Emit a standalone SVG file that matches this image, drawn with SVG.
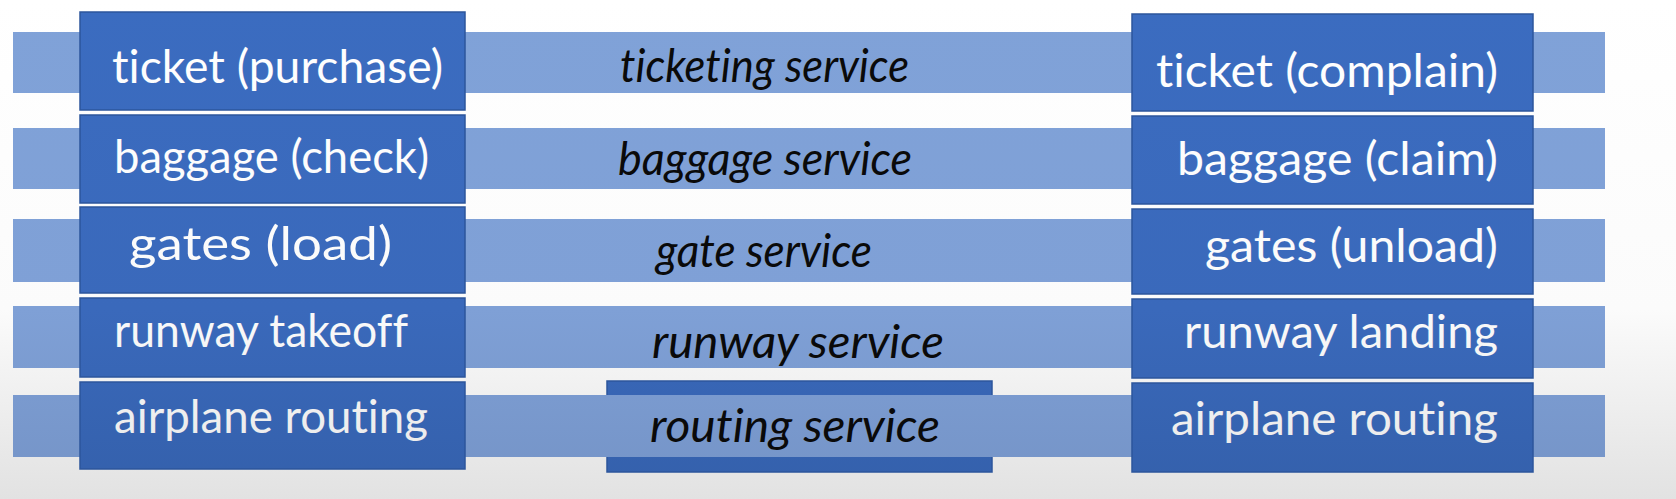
<svg xmlns="http://www.w3.org/2000/svg" width="1676" height="499" viewBox="0 0 1676 499">
<defs>
<linearGradient id="bg" gradientUnits="userSpaceOnUse" x1="0" y1="0" x2="0" y2="499">
<stop offset="0" stop-color="#ffffff"/>
<stop offset="0.62" stop-color="#fbfbfb"/>
<stop offset="1" stop-color="#e2e2e2"/>
</linearGradient>
<linearGradient id="bandFill" gradientUnits="userSpaceOnUse" x1="0" y1="0" x2="0" y2="499">
<stop offset="0" stop-color="#80a2d8"/>
<stop offset="0.62" stop-color="#7fa0d6"/>
<stop offset="1" stop-color="#7493c6"/>
</linearGradient>
<linearGradient id="boxFill" gradientUnits="userSpaceOnUse" x1="0" y1="0" x2="0" y2="499">
<stop offset="0" stop-color="#3b6cc0"/>
<stop offset="0.62" stop-color="#3a69bb"/>
<stop offset="1" stop-color="#3460ab"/>
</linearGradient>
<linearGradient id="textFill" gradientUnits="userSpaceOnUse" x1="0" y1="0" x2="0" y2="499">
<stop offset="0" stop-color="#ffffff"/>
<stop offset="0.62" stop-color="#fafafa"/>
<stop offset="1" stop-color="#e6e6e6"/>
</linearGradient>
</defs>
<style>
.band{fill:url(#bandFill);}
.box{fill:url(#boxFill);stroke:#2c569c;stroke-width:1.5;}
.lbl{font-family:Lato,"Open Sans","Liberation Sans",sans-serif;font-size:47px;fill:url(#textFill);font-variant-ligatures:none;font-feature-settings:"liga" 0,"clig" 0;}
.svc{font-family:Lato,"Open Sans","Liberation Sans",sans-serif;font-size:46px;font-style:italic;fill:#0a0a0a;font-variant-ligatures:none;font-feature-settings:"liga" 0,"clig" 0;}
</style>
<rect x="0" y="0" width="1676" height="499" fill="url(#bg)"/>

<g id="connectors">
<rect class="band" x="13" y="32" width="1592" height="61"/>
<rect class="band" x="13" y="128" width="1592" height="61"/>
<rect class="band" x="13" y="219" width="1592" height="63"/>
<rect class="band" x="13" y="306" width="1592" height="62"/>
</g>

<g id="routing-service">
<rect class="box" x="607" y="381" width="385" height="91"/>
</g>
<g id="band-routing">
<rect class="band" x="13" y="395" width="1592" height="62"/>
</g>

<g id="ticketing-service"><text class="svc" x="620" y="82" textLength="289" lengthAdjust="spacingAndGlyphs">ticketing service</text></g>
<g id="baggage-service"><text class="svc" x="618" y="175" textLength="294" lengthAdjust="spacingAndGlyphs">baggage service</text></g>
<g id="gate-service"><text class="svc" x="656" y="267" textLength="216" lengthAdjust="spacingAndGlyphs">gate service</text></g>
<g id="runway-service"><text class="svc" x="652" y="358" textLength="292" lengthAdjust="spacingAndGlyphs">runway service</text></g>
<g id="routing-service-label"><text class="svc" x="650" y="442" textLength="290" lengthAdjust="spacingAndGlyphs">routing service</text></g>

<g id="ticket-purchase">
<rect class="box" x="80" y="12" width="385" height="98"/>
<text class="lbl" x="112" y="83" textLength="331" lengthAdjust="spacingAndGlyphs">ticket (purchase)</text>
</g>
<g id="baggage-check">
<rect class="box" x="80" y="115" width="385" height="88"/>
<text class="lbl" x="114" y="173" textLength="315" lengthAdjust="spacingAndGlyphs">baggage (check)</text>
</g>
<g id="gates-load">
<rect class="box" x="80" y="207" width="385" height="86"/>
<text class="lbl" x="129" y="260" textLength="263" lengthAdjust="spacingAndGlyphs">gates (load)</text>
</g>
<g id="runway-takeoff">
<rect class="box" x="80" y="298" width="385" height="79"/>
<text class="lbl" x="114" y="347" textLength="294" lengthAdjust="spacingAndGlyphs">runway takeoff</text>
</g>
<g id="airplane-routing-left">
<rect class="box" x="80" y="382" width="385" height="87"/>
<text class="lbl" x="114" y="433" textLength="314" lengthAdjust="spacingAndGlyphs">airplane routing</text>
</g>

<g id="ticket-complain">
<rect class="box" x="1132" y="14" width="401" height="97"/>
<text class="lbl" x="1156" y="87" textLength="342" lengthAdjust="spacingAndGlyphs">ticket (complain)</text>
</g>
<g id="baggage-claim">
<rect class="box" x="1132" y="116" width="401" height="88"/>
<text class="lbl" x="1177" y="175" textLength="321" lengthAdjust="spacingAndGlyphs">baggage (claim)</text>
</g>
<g id="gates-unload">
<rect class="box" x="1132" y="209" width="401" height="85"/>
<text class="lbl" x="1205" y="262" textLength="293" lengthAdjust="spacingAndGlyphs">gates (unload)</text>
</g>
<g id="runway-landing">
<rect class="box" x="1132" y="299" width="401" height="79"/>
<text class="lbl" x="1184" y="348" textLength="314" lengthAdjust="spacingAndGlyphs">runway landing</text>
</g>
<g id="airplane-routing-right">
<rect class="box" x="1132" y="383" width="401" height="89"/>
<text class="lbl" x="1171" y="435" textLength="327" lengthAdjust="spacingAndGlyphs">airplane routing</text>
</g>
</svg>
